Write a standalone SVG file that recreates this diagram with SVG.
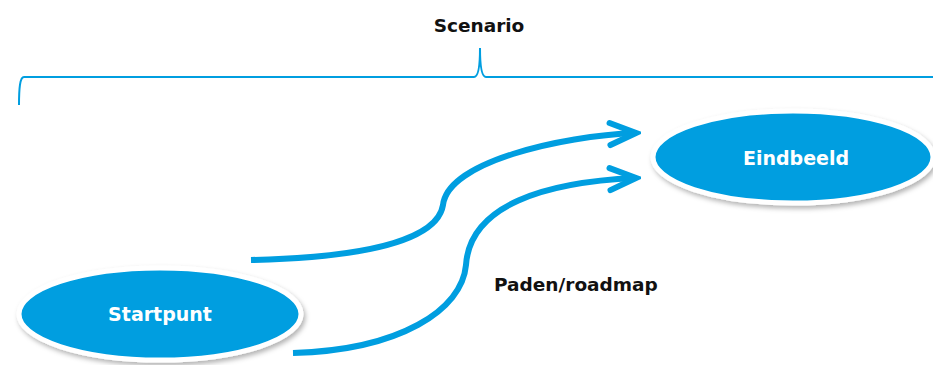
<svg xmlns="http://www.w3.org/2000/svg" width="933" height="365" viewBox="0 0 933 365">
<style>
.lbl{font-family:"DejaVu Sans","Liberation Sans",sans-serif;font-weight:bold;font-size:18.5px;fill:#111}
.ntxt{font-family:"DejaVu Sans","Liberation Sans",sans-serif;font-weight:bold;font-size:19px;fill:#fff;text-anchor:middle;dominant-baseline:central}
.node{fill:#009EE0;stroke:#fff;stroke-width:5}
.flow{fill:none;stroke:#009EE0;stroke-width:6}
.brace{fill:none;stroke:#009EE0;stroke-width:2}
</style>
<defs>
<filter id="sh" x="-10%" y="-20%" width="120%" height="150%">
<feDropShadow dx="2" dy="3" stdDeviation="2.5" flood-color="#000" flood-opacity="0.3"/>
</filter>
<marker id="chev" markerUnits="userSpaceOnUse" viewBox="-35 -20 40 40" markerWidth="40" markerHeight="40" refX="0" refY="0" orient="auto">
<path d="M-26,-11 L0,0 L-26,11" fill="none" stroke="#009EE0" stroke-width="6" stroke-linecap="round" stroke-linejoin="miter"/>
</marker>
</defs>
<g id="scenario">
<path class="brace" d="M19,105 C19,88 20,77 24,77 L474,77 C478,77 480,68 480,48 C480,68 482,77 486,77 L933,77"/>
<text class="lbl" x="479" y="32" text-anchor="middle">Scenario</text>
</g>
<g id="connectors">
<path class="flow" d="M251,260 C380,257 438,236 443,205 C448,162 560,136 636,133" marker-end="url(#chev)"/>
<path class="flow" d="M293,353 C400,350 462,310 466,265 C470,205 545,182 636,178" marker-end="url(#chev)"/>
</g>
<g id="startpunt">
<ellipse class="node" cx="160" cy="314" rx="141" ry="46" filter="url(#sh)"/>
<text class="ntxt" x="160" y="314">Startpunt</text>
</g>
<g id="eindbeeld">
<ellipse class="node" cx="793" cy="157" rx="140" ry="46" filter="url(#sh)"/>
<text class="ntxt" x="796" y="158">Eindbeeld</text>
</g>
<g id="paden">
<text class="lbl" x="494" y="291">Paden/roadmap</text>
</g>
</svg>
